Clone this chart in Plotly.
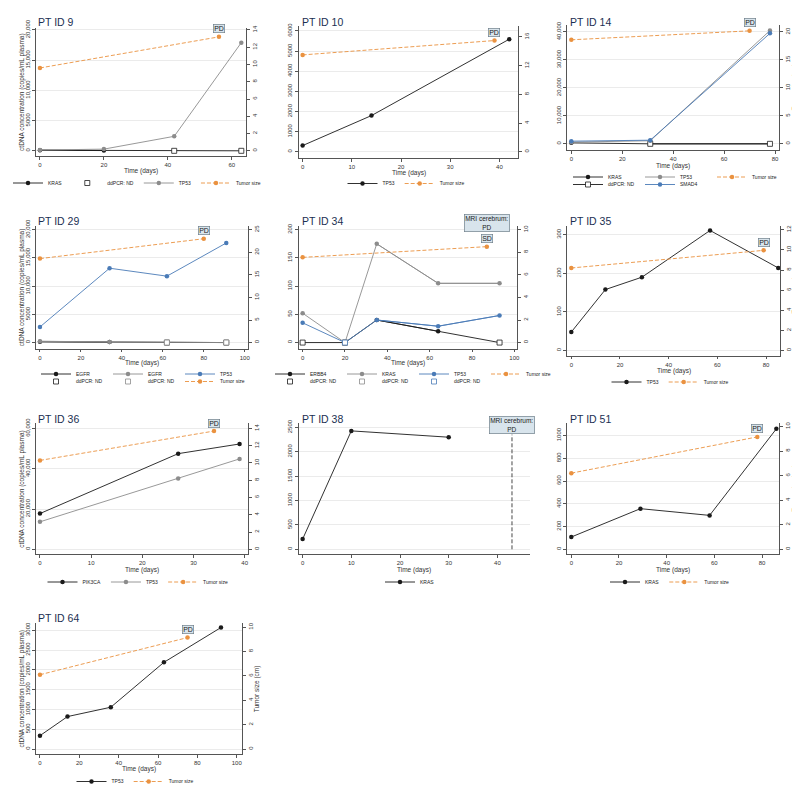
import plotly.graph_objects as go

W, H = 800, 788

# ------------------------- data -------------------------
titles = ["PT ID 9", "PT ID 10", "PT ID 14", "PT ID 29", "PT ID 34",
          "PT ID 35", "PT ID 36", "PT ID 38", "PT ID 51", "PT ID 64"]

# PT ID 9
pt9_days = [0, 20, 42, 63]
pt9_kras = [100, 40, 0, 0]
pt9_kras_nd = [0, 0, 1, 1]
pt9_tp53 = [120, 280, 2400, 17900]
pt9_tumor_days = [0, 56]
pt9_tumor = [9.6, 13.2]

# PT ID 10
pt10_days = [0, 14, 42]
pt10_tp53 = [310, 1800, 5590]
pt10_tumor_days = [0, 39]
pt10_tumor = [13.5, 15.5]

# PT ID 14
pt14_days = [0, 31, 78]
pt14_kras = [350, 0, 0]
pt14_kras_nd = [0, 1, 1]
pt14_tp53 = [600, 1100, 40500]
pt14_smad4 = [950, 1300, 39500]
pt14_tumor_days = [0, 70]
pt14_tumor = [18.6, 20.2]

# PT ID 29
pt29_days = [0, 34, 62, 91]
pt29_egfr_a = [150, 80, 0, 0]
pt29_egfr_a_nd = [0, 0, 1, 1]
pt29_egfr_b = [220, 120, 0, 0]
pt29_egfr_b_nd = [0, 0, 1, 1]
pt29_tp53 = [2770, 13180, 11770, 17650]
pt29_tumor_days = [0, 80]
pt29_tumor = [18.6, 23.0]

# PT ID 34
pt34_days = [0, 20, 35, 64, 93]
pt34_erbb4 = [0, 0, 40, 20, 0]
pt34_erbb4_nd = [1, 1, 0, 0, 1]
pt34_kras = [52, 0, 175, 105, 105]
pt34_kras_nd = [0, 1, 0, 0, 0]
pt34_tp53 = [35, 0, 40, 29, 48]
pt34_tp53_nd = [0, 1, 0, 0, 0]
pt34_tumor_days = [0, 87]
pt34_tumor = [7.55, 8.5]

# PT ID 35
pt35_days = [0, 14, 29, 57, 85]
pt35_tp53 = [48, 158, 190, 311, 214]
pt35_tumor_days = [0, 79]
pt35_tumor = [8.2, 9.95]

# PT ID 36
pt36_days = [0, 27, 39]
pt36_pik3ca = [17750, 47500, 52300]
pt36_tp53 = [13650, 35200, 44900]
pt36_tumor_days = [0, 34]
pt36_tumor = [10.3, 13.7]

# PT ID 38
pt38_days = [0, 10, 30]
pt38_kras = [210, 2430, 2300]
pt38_mri_day = 43

# PT ID 51
pt51_days = [0, 29, 58, 86]
pt51_kras = [108, 357, 298, 1058]
pt51_tumor_days = [0, 78]
pt51_tumor = [6.2, 9.15]

# PT ID 64
pt64_days = [0, 14, 36, 63, 92]
pt64_tp53 = [338, 820, 1056, 2189, 3068]
pt64_tumor_days = [0, 75]
pt64_tumor = [6.1, 9.15]

# ------------------------- layout geometry -------------------------
GEOM = [
    dict(L=27, R=237, T=20, B=148, xm=(0, 31, 60, 223), ylm=(0, 143, 20000, 22), yrm=(0, 143, 14, 22), dx=20, dyl=5000, dyr=2),
    dict(L=290, R=510, T=18, B=150, xm=(0, 294, 40, 491), ylm=(0, 144, 6000, 23), yrm=(0, 144, 16, 29), dx=10, dyl=1000, dyr=4),
    dict(L=559, R=771, T=17, B=142, xm=(0, 563, 80, 767), ylm=(0, 136, 40000, 24), yrm=(0, 136, 20, 24), dx=20, dyl=10000, dyr=5),
    dict(L=27, R=239, T=218, B=341, xm=(0, 31, 100, 236), ylm=(0, 335, 20000, 222), yrm=(0, 335, 25, 222), dx=20, dyl=5000, dyr=5),
    dict(L=290, R=509, T=218, B=341, xm=(0, 294, 100, 506), ylm=(0, 335, 200, 222), yrm=(0, 335, 10, 222), dx=20, dyl=50, dyr=2),
    dict(L=559, R=772, T=218, B=348, xm=(0, 563, 80, 758), ylm=(0, 343, 300, 227), yrm=(0, 343, 12, 222), dx=20, dyl=100, dyr=2),
    dict(L=27, R=239, T=416, B=547, xm=(0, 31, 40, 236), ylm=(0, 542, 60000, 421), yrm=(0, 542, 14, 421), dx=10, dyl=20000, dyr=2),
    dict(L=290, R=522, T=416, B=547, xm=(0, 294, 40, 489), ylm=(0, 542, 2500, 420), yrm=None, dx=10, dyl=500, dyr=None),
    dict(L=559, R=771, T=416, B=547, xm=(0, 563, 80, 754), ylm=(0, 542, 1000, 428), yrm=(0, 542, 10, 419), dx=20, dyl=200, dyr=2),
    dict(L=27, R=233, T=616, B=747, xm=(0, 31, 100, 228), ylm=(0, 742, 3000, 623), yrm=(0, 742, 10, 620), dx=20, dyl=500, dyr=2),
]
TITLE_POS = [(28, 14), (292, 14), (561, 14), (28, 213), (292, 213), (561, 213),
             (28, 412), (292, 412), (561, 412), (28, 611)]
XTITLE_Y = [163.5, 165, 158.5, 355.5, 355.5, 363.5, 562.5, 562.5, 562.5, 761.5]
LEFT_TITLE_X = [13, None, None, 13, None, None, 13, None, None, 13]
RIGHT_TITLE_X = [None, None, 787, None, None, 787, None, None, 787, 248]

# legend id -> (x px, y px, xanchor, entrywidth)
LEGENDS = {
    'legend':   (128, 175, 'center', 0),
    'legend2':  (398, 175.5, 'center', 0),
    'legend3':  (560, 169, 'left', 27),
    'legend4':  (560, 176.5, 'left', 27),
    'legend5':  (28, 366, 'left', 27),
    'legend6':  (28, 373.5, 'left', 27),
    'legend7':  (262, 366, 'left', 27),
    'legend8':  (262, 373.5, 'left', 27),
    'legend9':  (662, 374, 'center', 0),
    'legend10': (130, 574, 'center', 0),
    'legend11': (402, 574, 'center', 0),
    'legend12': (662, 574, 'center', 0),
    'legend13': (127, 774, 'center', 0),
}

BLACK = '#1a1a1a'
GRAY = '#8c8c8c'
BLUE = '#4a7bb7'
ORANGE = '#ea9240'
FONT = 'Liberation Sans, Arial, sans-serif'
AXC = '#555555'
TXT = '#333333'
LW = 0.9
MS = 4.5


def lin(v0, p0, v1, p1, p):
    return v0 + (p - p0) * (v1 - v0) / (p1 - p0)


def xid(p):
    return 'x' if p == 1 else f'x{p}'


def yid(p):
    return 'y' if p == 1 else f'y{p}'


def ryid(p):
    return f'y{p + 10}'


fig = go.Figure()


def add_series(p, days, vals, color, name, leg, nd=None, nd_leg=None, nd_line=False):
    if nd is None:
        fig.add_trace(go.Scatter(x=days, y=vals, mode='lines+markers', name=name, legend=leg,
                                 line=dict(color=color, width=LW), marker=dict(color=color, size=MS),
                                 xaxis=xid(p), yaxis=yid(p)))
        return
    fig.add_trace(go.Scatter(x=days, y=vals, mode='lines', showlegend=False,
                             line=dict(color=color, width=LW), xaxis=xid(p), yaxis=yid(p),
                             hoverinfo='skip'))
    det = [v if not f else None for v, f in zip(vals, nd)]
    fig.add_trace(go.Scatter(x=days, y=det, mode='lines+markers', name=name, legend=leg,
                             connectgaps=False,
                             line=dict(color=color, width=LW), marker=dict(color=color, size=MS),
                             xaxis=xid(p), yaxis=yid(p)))
    ndx = [d for d, f in zip(days, nd) if f]
    ndy = [v for v, f in zip(vals, nd) if f]
    fig.add_trace(go.Scatter(x=ndx, y=ndy, mode='lines+markers' if nd_line else 'markers',
                             name='ddPCR: ND', legend=nd_leg if nd_leg else leg,
                             showlegend=nd_leg is not None,
                             line=dict(color=color, width=LW),
                             marker=dict(symbol='square', size=5, color='white',
                                         line=dict(color=color, width=0.8)),
                             xaxis=xid(p), yaxis=yid(p)))


def add_tumor(p, days, vals, leg):
    fig.add_trace(go.Scatter(x=days, y=vals, mode='lines+markers', name='Tumor size', legend=leg,
                             line=dict(color=ORANGE, width=LW, dash='4px,2px'),
                             marker=dict(color=ORANGE, size=MS),
                             xaxis=xid(p), yaxis=ryid(p)))


annotations = []


def box(p, x, y, text, yshift, ref='data', size=7):
    annotations.append(dict(
        x=x, y=y, xref=xid(p), yref=(ryid(p) if ref == 'data' else f'{yid(p)} domain'),
        text=text, showarrow=False, yshift=yshift, yanchor='middle',
        font=dict(family=FONT, size=size, color='#222222'),
        bgcolor='#d8e4ec', bordercolor='#6f7f8a', borderwidth=0.7, borderpad=0.5))


# PT ID 9
add_series(1, pt9_days, pt9_kras, BLACK, 'KRAS', 'legend', nd=pt9_kras_nd, nd_leg='legend')
add_series(1, pt9_days, pt9_tp53, GRAY, 'TP53', 'legend')
add_tumor(1, pt9_tumor_days, pt9_tumor, 'legend')
box(1, pt9_tumor_days[-1], pt9_tumor[-1], 'PD', 8)

# PT ID 10
add_series(2, pt10_days, pt10_tp53, BLACK, 'TP53', 'legend2')
add_tumor(2, pt10_tumor_days, pt10_tumor, 'legend2')
box(2, pt10_tumor_days[-1], pt10_tumor[-1], 'PD', 8)

# PT ID 14
add_series(3, pt14_days, pt14_kras, BLACK, 'KRAS', 'legend3', nd=pt14_kras_nd, nd_leg='legend4', nd_line=True)
add_series(3, pt14_days, pt14_tp53, GRAY, 'TP53', 'legend3')
add_series(3, pt14_days, pt14_smad4, BLUE, 'SMAD4', 'legend4')
add_tumor(3, pt14_tumor_days, pt14_tumor, 'legend3')
box(3, pt14_tumor_days[-1], pt14_tumor[-1], 'PD', 8)

# PT ID 29
add_series(4, pt29_days, pt29_egfr_a, BLACK, 'EGFR', 'legend5', nd=pt29_egfr_a_nd, nd_leg='legend6')
add_series(4, pt29_days, pt29_egfr_b, GRAY, 'EGFR', 'legend5', nd=pt29_egfr_b_nd, nd_leg='legend6')
add_series(4, pt29_days, pt29_tp53, BLUE, 'TP53', 'legend5')
add_tumor(4, pt29_tumor_days, pt29_tumor, 'legend6')
box(4, pt29_tumor_days[-1], pt29_tumor[-1], 'PD', 8)

# PT ID 34
add_series(5, pt34_days, pt34_erbb4, BLACK, 'ERBB4', 'legend7', nd=pt34_erbb4_nd, nd_leg='legend8')
add_series(5, pt34_days, pt34_kras, GRAY, 'KRAS', 'legend7', nd=pt34_kras_nd, nd_leg='legend8')
add_series(5, pt34_days, pt34_tp53, BLUE, 'TP53', 'legend7', nd=pt34_tp53_nd, nd_leg='legend8')
add_tumor(5, pt34_tumor_days, pt34_tumor, 'legend7')
box(5, pt34_tumor_days[-1], pt34_tumor[-1], 'SD', 8)
box(5, pt34_tumor_days[-1], pt34_tumor[-1], 'MRI cerebrum:<br>PD', 24, size=6.5)

# PT ID 35
add_series(6, pt35_days, pt35_tp53, BLACK, 'TP53', 'legend9')
add_tumor(6, pt35_tumor_days, pt35_tumor, 'legend9')
box(6, pt35_tumor_days[-1], pt35_tumor[-1], 'PD', 8)

# PT ID 36
add_series(7, pt36_days, pt36_pik3ca, BLACK, 'PIK3CA', 'legend10')
add_series(7, pt36_days, pt36_tp53, GRAY, 'TP53', 'legend10')
add_tumor(7, pt36_tumor_days, pt36_tumor, 'legend10')
box(7, pt36_tumor_days[-1], pt36_tumor[-1], 'PD', 8)

# PT ID 38
add_series(8, pt38_days, pt38_kras, BLACK, 'KRAS', 'legend11')

# PT ID 51
add_series(9, pt51_days, pt51_kras, BLACK, 'KRAS', 'legend12')
add_tumor(9, pt51_tumor_days, pt51_tumor, 'legend12')
box(9, pt51_tumor_days[-1], pt51_tumor[-1], 'PD', 8)

# PT ID 64
add_series(10, pt64_days, pt64_tp53, BLACK, 'TP53', 'legend13')
add_tumor(10, pt64_tumor_days, pt64_tumor, 'legend13')
box(10, pt64_tumor_days[-1], pt64_tumor[-1], 'PD', 8)

# ------------------------- axes -------------------------
layout = {}
tickfont = dict(family=FONT, size=6, color=TXT)
common = dict(showline=True, linecolor=AXC, linewidth=0.8, ticks='outside', ticklen=3,
              tickwidth=0.7, tickcolor=AXC, tickfont=tickfont, zeroline=False,
              automargin=False, tickmode='linear', tick0=0,
              exponentformat='none', separatethousands=False)
shapes = []


def paper_text(text, xp, yp, angle=0, size=6.5, color=TXT, xanchor='center'):
    annotations.append(dict(x=xp / W, y=1 - yp / H, xref='paper', yref='paper', text=text,
                            showarrow=False, xanchor=xanchor, yanchor='middle', textangle=angle,
                            borderpad=0, font=dict(family=FONT, size=size, color=color)))


for i, g in enumerate(GEOM, start=1):
    xr = [lin(*g['xm'], g['L']), lin(*g['xm'], g['R'])]
    ylr = [lin(*g['ylm'], g['B']), lin(*g['ylm'], g['T'])]
    dx = [g['L'] / W, g['R'] / W]
    dy = [1 - g['B'] / H, 1 - g['T'] / H]
    xk = 'xaxis' if i == 1 else f'xaxis{i}'
    yk = 'yaxis' if i == 1 else f'yaxis{i}'
    layout[xk] = dict(domain=dx, range=xr, anchor=yid(i), dtick=g['dx'], showgrid=False, **common)
    layout[yk] = dict(domain=dy, range=ylr, anchor=xid(i), dtick=g['dyl'], showgrid=True,
                      gridcolor='#ebebeb', gridwidth=0.6, tickangle=-90, **common)
    if g['yrm'] is not None:
        yrr = [lin(*g['yrm'], g['B']), lin(*g['yrm'], g['T'])]
        layout[f'yaxis{i + 10}'] = dict(overlaying=yid(i), side='right', anchor=xid(i), range=yrr,
                                        dtick=g['dyr'], showgrid=False, tickangle=-90, **common)
    # panel title
    tx, ty = TITLE_POS[i - 1]
    paper_text(titles[i - 1], tx, ty, size=10.5, color='#1b2f52', xanchor='left')
    # axis titles
    cx = (g['L'] + g['R']) / 2
    cy = (g['T'] + g['B']) / 2
    paper_text('Time (days)', cx, XTITLE_Y[i - 1])
    if LEFT_TITLE_X[i - 1] is not None:
        paper_text('ctDNA concentration (copies/mL plasma)', LEFT_TITLE_X[i - 1], cy, angle=-90)
    if RIGHT_TITLE_X[i - 1] is not None:
        paper_text('Tumor size (cm)', RIGHT_TITLE_X[i - 1], cy, angle=-90)
    if i == 8:
        top = ylr[0] + 0.915 * (ylr[1] - ylr[0])
        shapes.append(dict(type='line', xref='x8', yref='y8', x0=pt38_mri_day, x1=pt38_mri_day,
                           y0=0, y1=top, line=dict(color='#333333', width=0.9, dash='4px,2px')))
        box(8, pt38_mri_day, 0.992, 'MRI cerebrum:<br>PD', 0, ref='domain', size=6.5)

for key, (lx, ly, xa, ew) in LEGENDS.items():
    layout[key] = dict(orientation='h', x=lx / W, y=1 - ly / H, xanchor=xa, yanchor='middle',
                       font=dict(family=FONT, size=5, color='#222222'), bgcolor='rgba(0,0,0,0)',
                       borderwidth=0, entrywidth=ew, entrywidthmode='pixels', itemwidth=30,
                       tracegroupgap=0, traceorder='normal')

fig.update_layout(template='none', width=W, height=H, autosize=False,
                  margin=dict(l=0, r=0, t=0, b=0, pad=0),
                  paper_bgcolor='white', plot_bgcolor='white', showlegend=True,
                  font=dict(family=FONT, color=TXT),
                  annotations=annotations, shapes=shapes, **layout)

fig.write_html('out.html')
